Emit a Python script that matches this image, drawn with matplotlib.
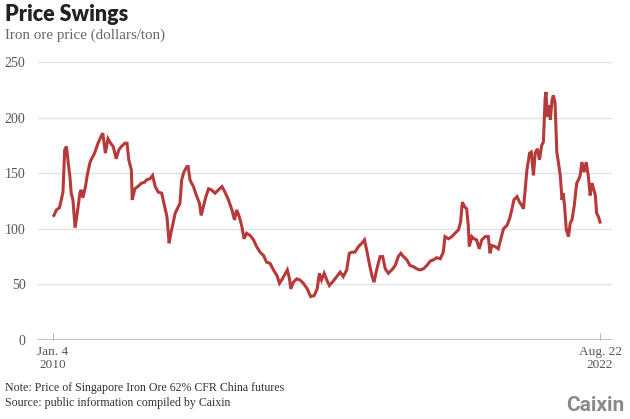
import pandas as pd
import matplotlib.pyplot as plt

# Iron ore price (decimal year, dollars/ton)
years = [
    2010.03, 2010.09, 2010.16, 2010.20, 2010.24, 2010.28, 2010.32, 2010.36, 2010.40, 2010.43,
    2010.47, 2010.52, 2010.57, 2010.63, 2010.66, 2010.70, 2010.76, 2010.80, 2010.86, 2010.89,
    2010.97, 2011.05, 2011.13, 2011.16, 2011.22, 2011.28, 2011.34, 2011.40, 2011.47, 2011.53,
    2011.59, 2011.67, 2011.72, 2011.76, 2011.82, 2011.84, 2011.90, 2011.97, 2012.05, 2012.13,
    2012.17, 2012.25, 2012.31, 2012.37, 2012.44, 2012.52, 2012.57, 2012.64, 2012.69, 2012.73,
    2012.77, 2012.83, 2012.88, 2012.94, 2012.98, 2013.03, 2013.10, 2013.13, 2013.17, 2013.25,
    2013.33, 2013.39, 2013.43, 2013.48, 2013.54, 2013.60, 2013.67, 2013.75, 2013.83, 2013.91,
    2013.98, 2014.06, 2014.14, 2014.20, 2014.25, 2014.31, 2014.37, 2014.42, 2014.48, 2014.56,
    2014.64, 2014.71, 2014.79, 2014.87, 2014.94, 2015.02, 2015.10, 2015.18, 2015.24, 2015.29,
    2015.35, 2015.42, 2015.47, 2015.50, 2015.56, 2015.64, 2015.71, 2015.79, 2015.88, 2015.96,
    2016.04, 2016.11, 2016.16, 2016.21, 2016.27, 2016.33, 2016.39, 2016.48, 2016.56, 2016.64,
    2016.71, 2016.79, 2016.85, 2016.91, 2016.98, 2017.06, 2017.14, 2017.20, 2017.25, 2017.31,
    2017.37, 2017.42, 2017.48, 2017.56, 2017.62, 2017.68, 2017.75, 2017.83, 2017.91, 2017.98,
    2018.04, 2018.10, 2018.18, 2018.25, 2018.33, 2018.41, 2018.48, 2018.56, 2018.64, 2018.72,
    2018.79, 2018.87, 2018.95, 2019.02, 2019.06, 2019.14, 2019.22, 2019.29, 2019.37, 2019.42,
    2019.46, 2019.51, 2019.56, 2019.60, 2019.62, 2019.68, 2019.73, 2019.79, 2019.85, 2019.91,
    2019.99, 2020.06, 2020.10, 2020.14, 2020.22, 2020.29, 2020.35, 2020.41, 2020.49, 2020.55,
    2020.60, 2020.65, 2020.72, 2020.78, 2020.83, 2020.87, 2020.91, 2020.95, 2021.01, 2021.05,
    2021.10, 2021.14, 2021.19, 2021.24, 2021.29, 2021.33, 2021.37, 2021.39, 2021.42, 2021.46,
    2021.49, 2021.53, 2021.56, 2021.60, 2021.64, 2021.68, 2021.72, 2021.76, 2021.79, 2021.82,
    2021.86, 2021.91, 2021.95, 2021.99, 2022.04, 2022.10, 2022.14, 2022.18, 2022.22, 2022.27,
    2022.32, 2022.37, 2022.41, 2022.45, 2022.49, 2022.53, 2022.56, 2022.60, 2022.64,
]
prices = [
    112, 117, 119, 126, 133, 171, 174, 160, 147, 132,
    126, 101, 114, 132, 135, 128, 138, 148, 159, 162,
    168, 177, 184, 186, 168, 181, 177, 174, 163, 171,
    174, 177, 177, 162, 153, 126, 136, 138, 141, 142,
    144, 145, 148, 138, 133, 132, 123, 111, 87, 96,
    103, 114, 118, 123, 144, 151, 156, 156, 144, 138,
    129, 123, 112, 120, 129, 136, 135, 132, 135, 138,
    133, 126, 117, 108, 117, 111, 102, 91, 96, 94,
    90, 84, 79, 76, 70, 69, 63, 58, 51, 54,
    58, 63, 55, 46, 52, 55, 54, 51, 46, 39,
    40, 46, 60, 54, 60, 54, 49, 53, 57, 61,
    57, 63, 78, 79, 79, 84, 87, 90, 81, 69,
    58, 52, 63, 75, 75, 64, 60, 63, 67, 75,
    78, 75, 72, 67, 66, 64, 63, 64, 67, 71,
    72, 74, 73, 79, 93, 91, 93, 96, 99, 106,
    124, 120, 118, 102, 84, 93, 91, 90, 82, 90,
    93, 93, 78, 85, 84, 82, 91, 100, 103, 109,
    117, 126, 129, 124, 121, 118, 135, 153, 168, 169,
    148, 168, 172, 162, 175, 178, 217, 223, 201, 211,
    198, 216, 220, 213, 169, 159, 148, 126, 132, 120,
    99, 93, 105, 108, 120, 141, 144, 148, 160, 151,
    160, 147, 130, 141, 136, 130, 114, 111, 106,
]

y_ticks = [0, 50, 100, 150, 200, 250]
x_tick_dates = ["2010-01-04", "2022-08-22"]
x_tick_labels = ["Jan. 4\n2010", "Aug. 22\n2022"]


def to_date(d):
    y = int(d)
    start = pd.Timestamp(year=y, month=1, day=1)
    end = pd.Timestamp(year=y + 1, month=1, day=1)
    return start + (end - start) * (d - y)


dates = [to_date(d) for d in years]

serif = ["Liberation Serif", "DejaVu Serif"]
red = "#b73a3a"

fig = plt.figure(figsize=(6.3, 4.19), dpi=100)
ax = fig.add_axes([38 / 630, 79 / 419, 574 / 630, 278 / 419])

ax.plot(dates, prices, color=red, lw=2.2, solid_joinstyle="miter")

ax.set_ylim(0, 250)
ax.set_xlim(pd.Timestamp("2009-08-31"), pd.Timestamp("2022-12-01"))
ax.set_yticks(y_ticks)
ax.set_yticklabels([str(v) for v in y_ticks], family=serif, fontsize=10, color="#555555")
ax.tick_params(axis="y", length=0, pad=9)
ax.grid(axis="y", color="#e2e2e2", lw=1)
ax.axhline(0, color="#b5b5b5", lw=1.2)

ax.set_xticks([pd.Timestamp(d) for d in x_tick_dates])
ax.set_xticklabels(x_tick_labels, family=serif, fontsize=9.5, color="#555555", linespacing=1.15)
ax.tick_params(axis="x", direction="in", length=5, color="#b5b5b5", pad=4)

for s in ax.spines.values():
    s.set_visible(False)
ax.set_axisbelow(True)

# Titles
fig.text(5 / 630, 1 - 4 / 419, "Price Swings", family="Lato", weight="heavy",
         fontsize=15.5, color="#222222", va="top", ha="left")
fig.text(5 / 630, 1 - 29 / 419, "Iron ore price (dollars/ton)", family=serif,
         fontsize=10.8, color="#666666", va="top", ha="left")

# Footnotes
fig.text(5 / 630, 1 - 382 / 419, "Note: Price of Singapore Iron Ore 62% CFR China futures",
         family=serif, fontsize=8.6, color="#333333", va="top", ha="left")
fig.text(5 / 630, 1 - 397 / 419, "Source: public information compiled by Caixin",
         family=serif, fontsize=8.6, color="#333333", va="top", ha="left")
fig.text(624 / 630, 1 - 411 / 419, "Caixin", family=["Roboto", "DejaVu Sans"], weight="bold",
         fontsize=15, color="#8a8a8a", va="baseline", ha="right")

plt.savefig("out.png", dpi=100)
